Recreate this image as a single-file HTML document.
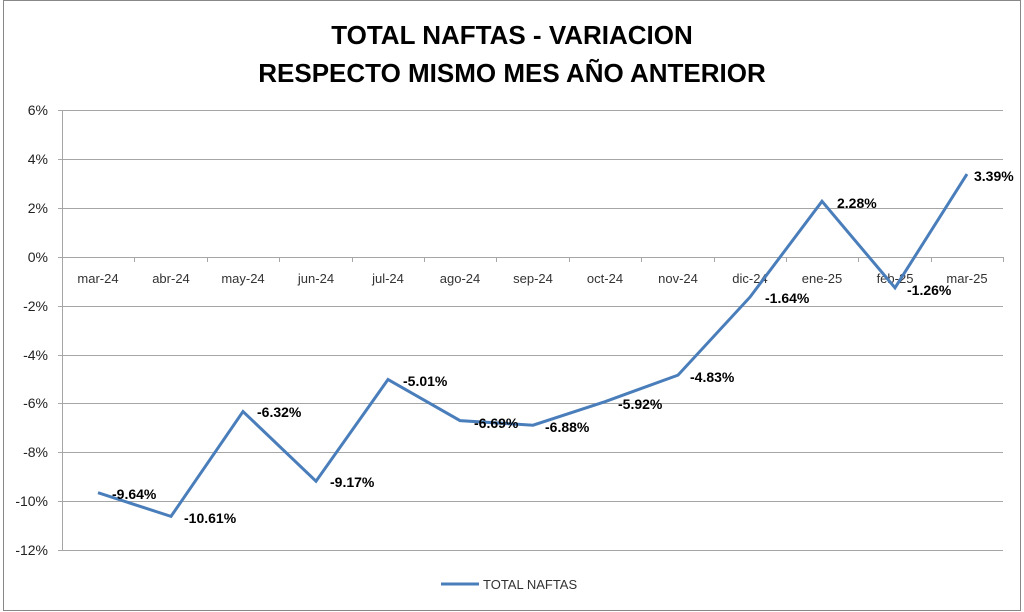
<!DOCTYPE html>
<html><head><meta charset="utf-8"><style>
html,body{margin:0;padding:0;background:#fff}
svg{display:block;font-family:"Liberation Sans",Arial,sans-serif}
</style></head><body>
<svg width="1024" height="612" viewBox="0 0 1024 612">
<rect x="3.5" y="0.5" width="1017" height="610" fill="#fff" stroke="#888" stroke-width="1"/>
<text x="512" y="44" text-anchor="middle" font-size="26" font-weight="bold" fill="#000">TOTAL NAFTAS - VARIACION</text>
<text x="512" y="82" text-anchor="middle" font-size="26" font-weight="bold" fill="#000">RESPECTO MISMO MES AÑO ANTERIOR</text>
<g stroke="#a6a6a6" stroke-width="1">
<line x1="58" y1="110.5" x2="1003" y2="110.5"/>
<line x1="58" y1="159.5" x2="1003" y2="159.5"/>
<line x1="58" y1="208.5" x2="1003" y2="208.5"/>
<line x1="58" y1="257.5" x2="1003" y2="257.5"/>
<line x1="58" y1="306.5" x2="1003" y2="306.5"/>
<line x1="58" y1="355.5" x2="1003" y2="355.5"/>
<line x1="58" y1="403.5" x2="1003" y2="403.5"/>
<line x1="58" y1="452.5" x2="1003" y2="452.5"/>
<line x1="58" y1="501.5" x2="1003" y2="501.5"/>
<line x1="58" y1="550.5" x2="1003" y2="550.5"/>
<line x1="62.5" y1="110" x2="62.5" y2="550"/>
<line x1="134.5" y1="257" x2="134.5" y2="262"/>
<line x1="207.5" y1="257" x2="207.5" y2="262"/>
<line x1="279.5" y1="257" x2="279.5" y2="262"/>
<line x1="352.5" y1="257" x2="352.5" y2="262"/>
<line x1="424.5" y1="257" x2="424.5" y2="262"/>
<line x1="496.5" y1="257" x2="496.5" y2="262"/>
<line x1="569.5" y1="257" x2="569.5" y2="262"/>
<line x1="641.5" y1="257" x2="641.5" y2="262"/>
<line x1="714.5" y1="257" x2="714.5" y2="262"/>
<line x1="786.5" y1="257" x2="786.5" y2="262"/>
<line x1="858.5" y1="257" x2="858.5" y2="262"/>
<line x1="931.5" y1="257" x2="931.5" y2="262"/>
<line x1="1003.5" y1="257" x2="1003.5" y2="262"/>
</g>
<g font-size="14" fill="#222" text-anchor="end">
<text x="48" y="115">6%</text><text x="48" y="164">4%</text><text x="48" y="213">2%</text>
<text x="48" y="262">0%</text><text x="48" y="311">-2%</text><text x="48" y="360">-4%</text>
<text x="48" y="408">-6%</text><text x="48" y="457">-8%</text><text x="48" y="506">-10%</text>
<text x="48" y="555">-12%</text>
</g>
<g font-size="13" fill="#333" text-anchor="middle">
<text x="98" y="283">mar-24</text><text x="171" y="283">abr-24</text><text x="243" y="283">may-24</text>
<text x="316" y="283">jun-24</text><text x="388" y="283">jul-24</text><text x="460" y="283">ago-24</text>
<text x="533" y="283">sep-24</text><text x="605" y="283">oct-24</text><text x="678" y="283">nov-24</text>
<text x="750" y="283">dic-24</text><text x="822" y="283">ene-25</text><text x="895" y="283">feb-25</text>
<text x="967" y="283">mar-25</text>
</g>
<polyline fill="none" stroke="#4a7ebb" stroke-width="3" stroke-linejoin="miter" points="98,492.7 171,516.4 243,411.5 316,481.2 388,379.5 460,420.6 533,425.2 605,401.7 678,375.1 750,297.1 822,201.3 895,287.8 967,174.1"/>
<g font-size="14" font-weight="bold" fill="#000">
<text x="112" y="499">-9.64%</text><text x="184" y="523">-10.61%</text><text x="257" y="417">-6.32%</text>
<text x="330" y="487">-9.17%</text><text x="403" y="386">-5.01%</text><text x="474" y="428">-6.69%</text>
<text x="545" y="432">-6.88%</text><text x="618" y="409">-5.92%</text><text x="690" y="382">-4.83%</text>
<text x="765" y="303">-1.64%</text><text x="837" y="208">2.28%</text><text x="907" y="295">-1.26%</text>
<text x="974" y="181">3.39%</text>
</g>
<line x1="441" y1="584" x2="479" y2="584" stroke="#4a7ebb" stroke-width="3"/>
<text x="483" y="589" font-size="13" fill="#333">TOTAL NAFTAS</text>
</svg>
</body></html>
